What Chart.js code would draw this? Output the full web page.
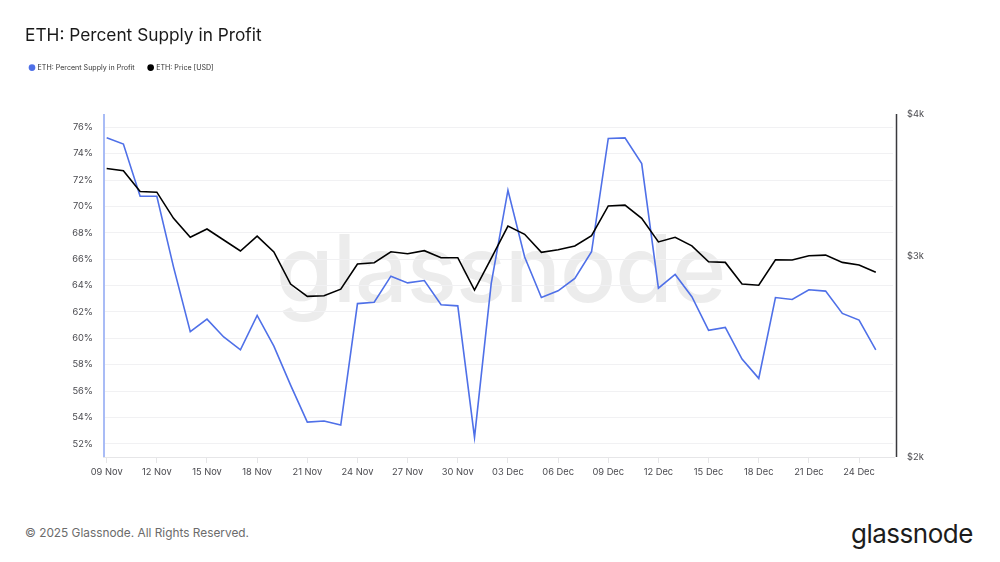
<!DOCTYPE html>
<html><head><meta charset="utf-8">
<script src="https://cdn.jsdelivr.net/npm/chart.js@4"></script>
<style>
html,body{margin:0;padding:0;background:#fff;width:1000px;height:562px;overflow:hidden}
#wrap{position:relative;width:1000px;height:562px}
canvas{position:absolute;left:0;top:0;z-index:2}
.t{position:absolute;white-space:nowrap;font-family:Inter,sans-serif}
#wm{left:276px;top:208px;font-size:93px;font-weight:500;color:#ececec;z-index:1;letter-spacing:-1px;line-height:120px}
#foot{left:25px;top:525px;font-size:11.85px;color:#6b6b6b;line-height:16px}
#logo{left:851px;top:516px;font-size:26px;font-weight:400;color:#1c1c1c;letter-spacing:-.5px;line-height:36px}
</style></head><body>
<div id="wrap">
<div class="t" id="wm">glassnode</div>
<canvas id="c" width="1000" height="562"></canvas>
<div class="t" id="foot">© 2025 Glassnode. All Rights Reserved.</div>
<div class="t" id="logo">glassnode</div>
</div>
<script>
const categories=["09 Nov","10 Nov","11 Nov","12 Nov","13 Nov","14 Nov","15 Nov","16 Nov","17 Nov","18 Nov","19 Nov","20 Nov","21 Nov","22 Nov","23 Nov","24 Nov","25 Nov","26 Nov","27 Nov","28 Nov","29 Nov","30 Nov","01 Dec","02 Dec","03 Dec","04 Dec","05 Dec","06 Dec","07 Dec","08 Dec","09 Dec","10 Dec","11 Dec","12 Dec","13 Dec","14 Dec","15 Dec","16 Dec","17 Dec","18 Dec","19 Dec","20 Dec","21 Dec","22 Dec","23 Dec","24 Dec","25 Dec"];
const supplyInProfit=[75.2,74.73,70.77,70.77,65.4,60.5,61.45,60.1,59.13,61.73,59.4,56.45,53.65,53.73,53.42,62.63,62.73,64.71,64.2,64.38,62.55,62.46,52.49,64.16,71.23,66.17,63.09,63.6,64.54,66.56,75.15,75.2,73.25,63.8,64.84,63.15,60.6,60.82,58.42,56.96,63.09,62.94,63.68,63.58,61.89,61.38,59.13];
const priceUsd=[3584,3567,3421,3416,3240,3118,3171,3101,3033,3126,3027,2837,2767,2771,2808,2954,2962,3028,3016,3035,2992,2992,2803,2988,3190,3137,3025,3041,3064,3128,3322,3328,3240,3089,3118,3065,2968,2964,2837,2830,2980,2978,3004,3008,2964,2948,2905];
const percentTicks=[52,54,56,58,60,62,64,66,68,70,72,74,76];
const priceTicks=[2000,3000,4000];
const dateTicks=["09 Nov","12 Nov","15 Nov","18 Nov","21 Nov","24 Nov","27 Nov","30 Nov","03 Dec","06 Dec","09 Dec","12 Dec","15 Dec","18 Dec","21 Dec","24 Dec"];

const tickFont={family:'Inter',size:9.3};
const tickColor='#4a4a4f';
const pinAndAxes={
  id:'pinAndAxes',
  afterLayout(ch){
    ch.titleBlock.left=25;
    ch.titleBlock.top=24.5;
    ch.titleBlock.bottom=46.5;
    ch.legend.left=16;
    ch.legend.top=50;
  },
  afterDatasetsDraw(ch){
    const a=ch.chartArea,g=ch.ctx;
    g.save();
    g.lineWidth=2;g.strokeStyle='#a9bcf6';
    g.beginPath();g.moveTo(a.left-1,a.top);g.lineTo(a.left-1,a.bottom);g.stroke();
    g.lineWidth=1.5;g.strokeStyle='#3a3a3e';
    g.beginPath();g.moveTo(a.right+3.5,a.top);g.lineTo(a.right+3.5,a.bottom);g.stroke();
    g.lineWidth=1;g.strokeStyle='#e6e6e8';
    g.beginPath();g.moveTo(a.left-2,a.bottom+.5);g.lineTo(a.right+2,a.bottom+.5);g.stroke();
    g.restore();
  }
};
new Chart(document.getElementById('c'),{
  type:'line',
  plugins:[pinAndAxes],
  data:{datasets:[
    {label:'ETH: Percent Supply in Profit',yAxisID:'y',order:1,
     data:supplyInProfit.map((v,i)=>({x:i,y:v})),
     borderColor:'#4f70e8',backgroundColor:'#4f70e8',borderWidth:1.6,pointRadius:0,tension:0},
    {label:'ETH: Price [USD]',yAxisID:'y2',order:0,
     data:priceUsd.map((v,i)=>({x:i,y:v})),
     borderColor:'#000',backgroundColor:'#000',borderWidth:1.6,pointRadius:0,tension:0}
  ]},
  options:{
    responsive:false,animation:false,devicePixelRatio:1,
    layout:{padding:{top:61,left:0,right:0,bottom:0}},
    plugins:{
      title:{display:true,text:'ETH: Percent Supply in Profit',align:'start',color:'#1a1a1a',
        font:{family:'Inter',size:17.3,weight:'normal',lineHeight:22/17.3},padding:0},
      legend:{display:true,position:'top',align:'start',
        labels:{usePointStyle:true,pointStyle:'circle',boxWidth:4,boxHeight:3.6,padding:14,color:'#333',
          sort:(a,b)=>a.datasetIndex-b.datasetIndex,
          font:{family:'Inter',size:7.1,lineHeight:10/7.1}}},
      tooltip:{enabled:false}
    },
    scales:{
      x:{type:'linear',min:-0.1,max:47.03,
        afterBuildTicks(s){s.ticks=dateTicks.map(d=>({value:categories.indexOf(d)}));},
        afterFit(s){s.height=105;},
        ticks:{autoSkip:false,maxRotation:0,font:tickFont,color:tickColor,padding:4,
          callback:v=>categories[v]},
        grid:{drawOnChartArea:false,drawTicks:true,tickLength:6,color:'#e6e6e8'},
        border:{display:false}},
      y:{type:'linear',position:'left',min:51,max:77,
        afterBuildTicks(s){s.ticks=percentTicks.map(v=>({value:v}));},
        afterFit(s){s.width=105;},
        ticks:{font:tickFont,color:tickColor,padding:12,callback:v=>v+'%'},
        grid:{color:'#f1f1f3',lineWidth:1,drawTicks:false},
        border:{display:false}},
      y2:{type:'logarithmic',position:'right',min:2000,max:4000,
        afterBuildTicks(s){s.ticks=priceTicks.map(v=>({value:v}));},
        afterFit(s){s.width=107;},
        ticks:{font:tickFont,color:tickColor,padding:14,autoSkip:false,callback:v=>'$'+(v/1000)+'k'},
        grid:{display:false,drawTicks:false},
        border:{display:false}}
    }
  }
});
</script>
</body></html>
